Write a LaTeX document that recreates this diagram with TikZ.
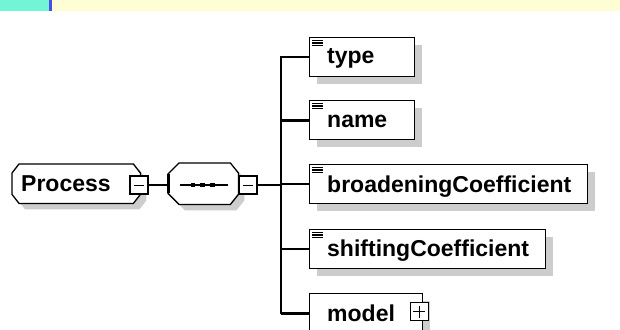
\documentclass[tikz,border=0pt]{standalone}
\usepackage{fontspec}
\setmainfont{Liberation Sans}
\usetikzlibrary{shadows,calc}
\definecolor{barcyan}{HTML}{72F4D6}
\definecolor{barblue}{HTML}{4B4BE6}
\definecolor{baryellow}{HTML}{FFFDD3}
\definecolor{shadowc}{HTML}{CDCDCD}
% octagon outline through the anchors of a node: #1 node, #2/#3 left cut, #4/#5 right cut, #6 offset
\newcommand\octpath[6]{%
  ([shift={(#6+#2,-#6)}]#1.north west) --
  ([shift={(#6-#4,-#6)}]#1.north east) --
  ([shift={(#6,-#6-#5)}]#1.north east) --
  ([shift={(#6,-#6+#5)}]#1.south east) --
  ([shift={(#6-#4,-#6)}]#1.south east) --
  ([shift={(#6+#2,-#6)}]#1.south west) --
  ([shift={(#6,-#6+#3)}]#1.south west) --
  ([shift={(#6,-#6-#3)}]#1.north west) -- cycle}
\begin{document}
\begin{tikzpicture}[x=1pt,y=-1pt,
  elem/.style={draw=black, line width=1.3pt, fill=white, rectangle,
    minimum height=39pt, inner sep=0pt, anchor=north west,
    drop shadow={shadow xshift=7pt, shadow yshift=-7pt, fill=shadowc, opacity=1}},
  frame/.style={draw=none, rectangle, inner sep=0pt, anchor=north west},
  lbl/.style={anchor=base west, inner sep=0pt, font=\fontsize{23}{25}\selectfont\bfseries},
  sq/.style={draw=black, line width=1.2pt, fill=white, rectangle, minimum size=18pt, inner sep=0pt},
  wire/.style={draw=black, line width=1.5pt},
  wirebold/.style={draw=black, line width=3pt},
  icon/.style={draw=black, line width=1.2pt},
  outline/.style={draw=black, line width=1.3pt, fill=white}]
\useasboundingbox (0,0) rectangle (620,329);
\clip (0,0) rectangle (620,329);
\fill[white] (0,0) rectangle (620,329);

% title strip
\fill[baryellow] (0,0) rectangle (620,11);
\fill[barcyan] (0,0) rectangle (49,11);
\fill[barblue] (49,0) rectangle (52,11);

% root element
\node[frame, minimum width=128pt, minimum height=39pt] (proc) at (12,164) {};
\fill[shadowc] \octpath{proc}{7pt}{9pt}{7pt}{9pt}{6pt};
\draw[outline] \octpath{proc}{7pt}{9pt}{7pt}{9pt}{0pt};
\node[lbl] (procL) at (21,191.7) {Process};
\node[sq] (procm) at (139,185) {};
\draw[line width=1pt] ([xshift=-5pt]procm.center) -- ([xshift=5pt]procm.center);

% sequence compositor
\node[frame, minimum width=70pt, minimum height=41pt] (seq) at (168,163) {};
\fill[shadowc] \octpath{seq}{11pt}{11pt}{8pt}{10pt}{6pt};
\draw[outline] \octpath{seq}{11pt}{11pt}{8pt}{10pt}{0pt};
\draw[line width=3pt] ([yshift=-11pt]seq.north west) -- ([yshift=11pt]seq.south west);
\draw[wire] ([shift={(12pt,-1.5pt)}]seq.west) -- ([shift={(-10pt,-1.5pt)}]seq.east);
\foreach \sx in {193,202.2,212.2}
  \fill (\sx-2.4,185-2.4) rectangle (\sx+2.4,185+2.4);
\node[sq] (seqm) at (248,185) {};
\draw[line width=1pt] ([xshift=-5pt]seqm.center) -- ([xshift=5pt]seqm.center);

% child elements
\node[elem, minimum width=105pt] (type) at (309,37) {};
\node[elem, minimum width=105pt] (name) at (309,100) {};
\node[elem, minimum width=278pt] (broad) at (309,164) {};
\node[elem, minimum width=236pt] (shift) at (309,229) {};
\node[elem, minimum width=113pt] (model) at (309,293) {};

\node[lbl] (typeL) at ([shift={(18,26.5)}]type.north west) {type};
\node[lbl] (nameL) at ([shift={(18,27.5)}]name.north west) {name};
\node[lbl] (broadL) at ([shift={(18,28)}]broad.north west) {broadeningCoefficient};
\node[lbl] (shiftL) at ([shift={(18,27.7)}]shift.north west) {shiftingCoefficient};
\node[lbl] (modelL) at ([shift={(18,28.5)}]model.north west) {model};

\foreach \n in {type,name,broad,shift}
  \foreach \d in {3.5,6,8.5}
    \draw[icon] ([shift={(3,\d)}]\n.north west) -- ++(11,0);

\node[sq] (modelx) at ([shift={(-4,-1.5)}]model.east) {};
\draw[line width=1.4pt] ([xshift=-6pt]modelx.center) -- ([xshift=6pt]modelx.center);
\draw[line width=1.4pt] ([yshift=-6pt]modelx.center) -- ([yshift=6pt]modelx.center);

% connectors
\draw[wire] (procm.east) -- (procm.east -| seq.west);
\coordinate (bus) at (281,185);
\draw[wire] (seqm.east) -- (bus);
\draw[wire] (bus) |- (type.west);
\draw[wire] (bus) |- (model.west);
\draw[wire] (broad.west -| bus) -- (broad.west);
\draw[wire] (shift.west -| bus) -- (shift.west);
\draw[wirebold] (name.west -| bus) -- (name.west);
\draw[wirebold] (model.west -| bus) -- (model.west);
\end{tikzpicture}
\end{document}
